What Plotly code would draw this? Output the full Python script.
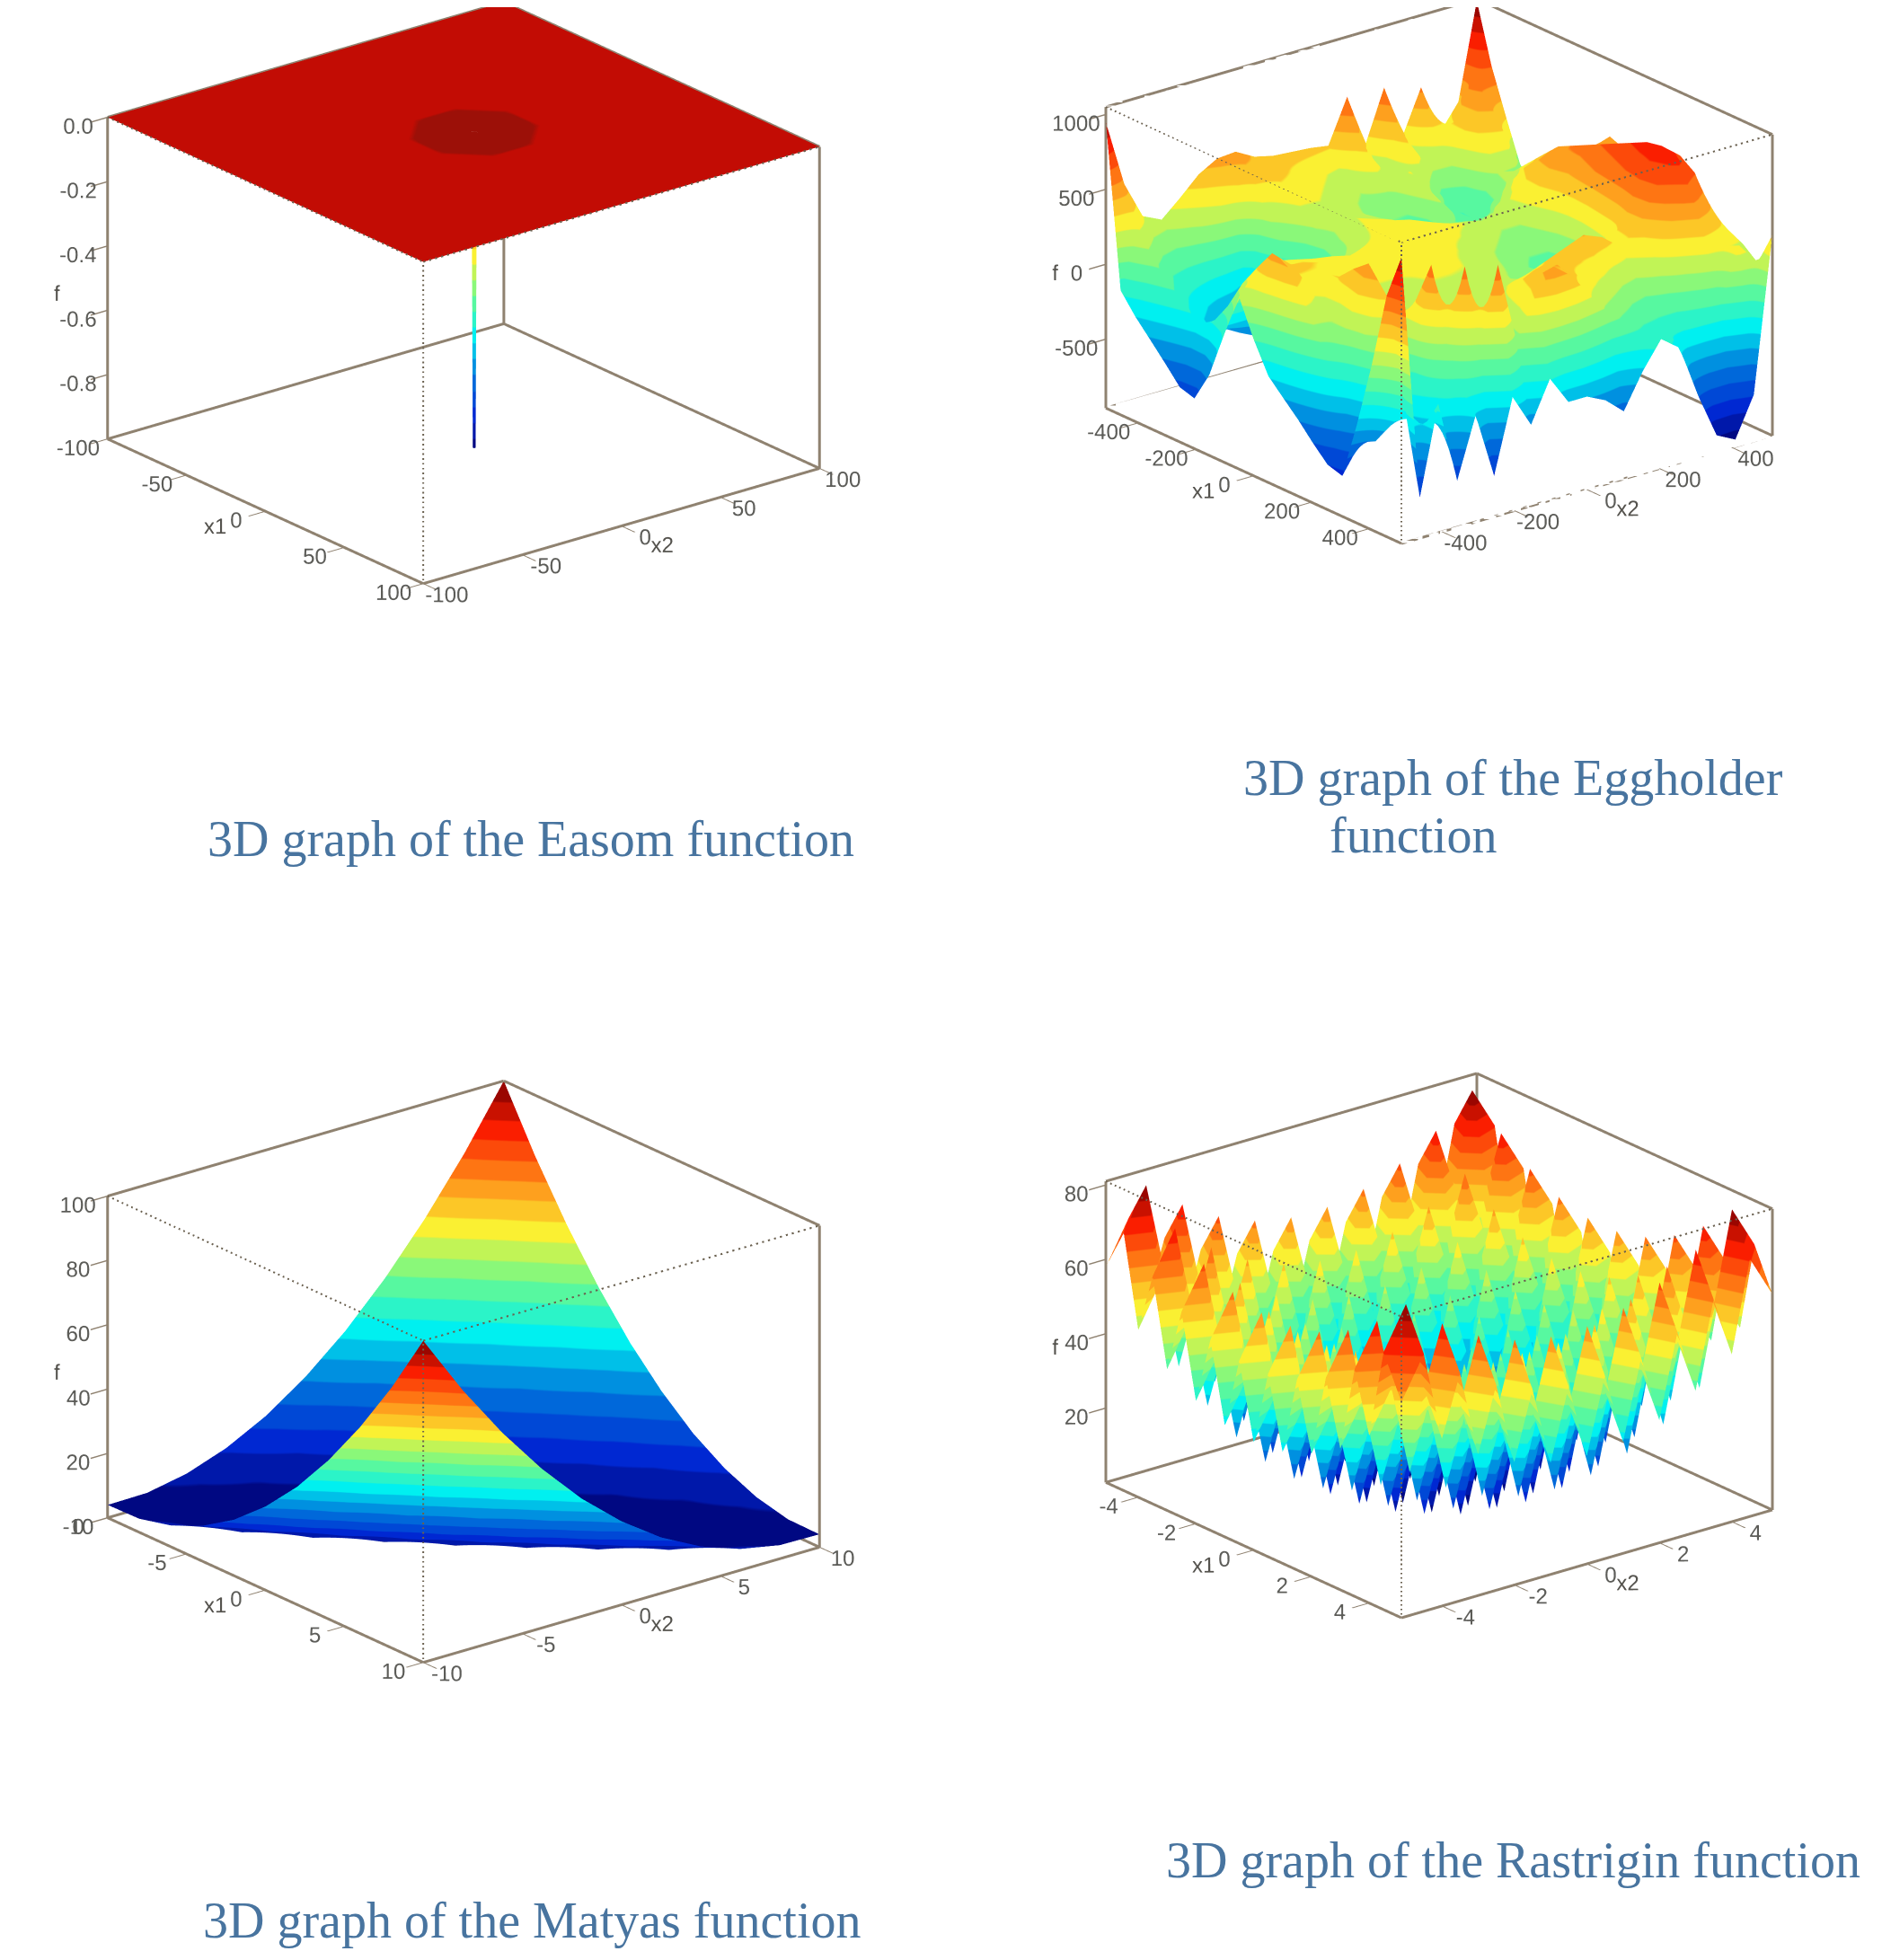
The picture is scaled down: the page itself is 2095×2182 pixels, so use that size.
import numpy as np
import plotly.graph_objects as go

W, H = 2095, 2182

# ---------- Easom ----------
EASOM_X = [-100, -60, -27, -22, -17, -12, -7, -2, 2, 2.6, 3.4, 4, 8, 13, 18, 23, 28, 33, 60, 100]
EASOM_SPIKE = -0.98
# depth of the darker disc round the spike: 0-7, in steps of EASOM_STEP
EASOM_STEP = -0.006
EASOM_MASK = [
    "00000000000000000000",
    "00000000000000000000",
    "00000011111111000000",
    "00000233333333200000",
    "00002345555554320000",
    "00023456666665432000",
    "00134567777776543100",
    "00135677777777653100",
    "00135677777777653100",
    "00135677777777653100",
    "00135677777777653100",
    "00135677777777653100",
    "00135677777777653100",
    "00134567777776543100",
    "00023456666665432000",
    "00002345555554320000",
    "00000233333333200000",
    "00000011111111000000",
    "00000000000000000000",
    "00000000000000000000",
]

# ---------- Eggholder (rows: x1, columns: x2) ----------
EGG_X = [-512, -461, -410, -358, -307, -256, -205, -154, -102, -51, 0, 51, 102, 154, 205, 256, 307, 358, 410, 461, 512]
EGG_Z = [
    [950, 500, 250, 190, 300, 420, 490, 500, 430, 400, 390, 380, 360, 650, 300, 640, 280, 570, 230, 400, 1040],
    [-130, 250, 100, 50, 100, 200, 300, 420, 400, 350, 300, 250, 200, 400, 150, 420, 200, 300, 350, 600, 650],
    [-260, 80, -50, -100, -150, -200, -300, 200, 330, 300, 250, 200, 150, 250, 180, 300, 150, 150, 400, 500, 350],
    [-370, -20, -150, -250, -350, -400, -400, 50, 250, 250, 200, 150, 100, 100, 250, 150, -20, 50, 300, 350, 60],
    [-480, -120, -250, -350, -420, -480, -480, -100, 150, 200, 180, 120, 50, 50, 200, 50, -60, 0, 150, 100, -20],
    [-595, -200, -300, -300, -300, -450, -500, -150, 100, 220, 200, 100, 50, -10, 150, 0, -50, 50, 200, 50, -130],
    [-625, -150, -100, -100, -100, -200, -350, -50, 150, 250, 220, 150, 80, 50, 50, -50, 50, 200, 300, 150, -150],
    [-425, 0, 100, 150, 100, 50, -50, 100, 200, 280, 250, 200, 150, 100, 80, 100, 200, 350, 400, 350, 150],
    [-108, 200, 250, 280, 250, 200, 150, 200, 250, 300, 300, 250, 200, 180, 150, 200, 300, 450, 500, 450, 400],
    [190, 350, 300, 330, 300, 280, 250, 280, 300, 320, 320, 280, 250, 200, 150, 150, 300, 500, 550, 500, 540],
    [-50, 490, 380, 350, 330, 320, 300, 300, 320, 300, 280, 250, 200, 150, 100, 100, 250, 450, 600, 550, 500],
    [-250, 450, 320, 330, 300, 300, 280, 280, 300, 280, 250, 200, 150, 100, 50, 50, 200, 500, 650, 600, 480],
    [-350, 300, 200, 350, 300, 250, 250, 260, 280, 260, 220, 180, 120, 60, 0, 0, 200, 550, 700, 650, 450],
    [-450, 100, 150, 450, 280, 200, 200, 250, 250, 240, 200, 150, 100, 80, -50, -20, 250, 600, 750, 700, 420],
    [-560, -100, 200, 530, 250, 150, 180, 220, 220, 220, 200, 120, 100, 150, 100, 50, 300, 650, 800, 720, 380],
    [-660, -350, 150, 400, 150, 100, 150, 200, 200, 200, 200, 200, 250, 300, 350, 250, 400, 700, 820, 720, 350],
    [-690, -500, 0, 150, 350, 100, 120, 150, 180, 250, 300, 350, 400, 450, 400, 300, 400, 650, 780, 650, 320],
    [-300, -450, -150, -50, 620, 50, 80, 100, 200, 350, 400, 380, 350, 300, 200, 150, 250, 450, 600, 450, 280],
    [150, -300, -250, -100, 150, 620, 50, 50, 250, 420, 450, 350, 250, 150, 50, 0, 50, 150, 300, 250, 230],
    [650, -150, -300, -200, -100, 100, 640, 100, 350, 520, 420, 250, 100, 0, -80, -100, -150, -100, -50, 300, 150],
    [950, -690, -100, -650, -250, -690, -200, -420, -150, -340, -340, -400, -510, -280, -100, -195, -550, -850, -915, -650, 380],
]

# ---------- Matyas (rows: x1, columns: x2) ----------
MAT_X = [-10, -8, -6, -4, -2, 0, 2, 4, 6, 8, 10]
MAT_Z = [
    [4.0, 4.2, 6.6, 11.0, 17.4, 26.0, 36.6, 49.4, 64.2, 81.0, 100.0],
    [4.2, 2.6, 3.0, 5.4, 10.0, 16.6, 25.4, 36.2, 49.0, 64.0, 81.0],
    [6.6, 3.0, 1.4, 2.0, 4.6, 9.4, 16.2, 25.0, 36.0, 49.0, 64.2],
    [11.0, 5.4, 2.0, 0.6, 1.4, 4.2, 9.0, 16.0, 25.0, 36.2, 49.4],
    [17.4, 10.0, 4.6, 1.4, 0.2, 1.0, 4.0, 9.0, 16.2, 25.4, 36.6],
    [26.0, 16.6, 9.4, 4.2, 1.0, 0.0, 1.0, 4.2, 9.4, 16.6, 26.0],
    [36.6, 25.4, 16.2, 9.0, 4.0, 1.0, 0.2, 1.4, 4.6, 10.0, 17.4],
    [49.4, 36.2, 25.0, 16.0, 9.0, 4.2, 1.4, 0.6, 2.0, 5.4, 11.0],
    [64.2, 49.0, 36.0, 25.0, 16.2, 9.4, 4.6, 2.0, 1.4, 3.0, 6.6],
    [81.0, 64.0, 49.0, 36.2, 25.4, 16.6, 10.0, 5.4, 3.0, 2.6, 4.2],
    [100.0, 81.0, 64.2, 49.4, 36.6, 26.0, 17.4, 11.0, 6.6, 4.2, 4.0],
]

# ---------- Rastrigin: one quadrant, the surface is mirrored about 0 ----------
RAS_X = [-5.12, -4.5, -4, -3.5, -3, -2.5, -2, -1.5, -1, -0.5, 0]
RAS_Q = [
    [58, 69.2, 45, 61.2, 38, 55.2, 33, 51.2, 30, 49.2, 29],
    [69.2, 80.4, 56.2, 72.4, 49.2, 66.4, 44.2, 62.4, 41.2, 60.4, 40.2],
    [45, 56.2, 32, 48.2, 25, 42.2, 20, 38.2, 17, 36.2, 16],
    [61.2, 72.4, 48.2, 64.4, 41.2, 58.4, 36.2, 54.4, 33.2, 52.4, 32.2],
    [38, 49.2, 25, 41.2, 18, 35.2, 13, 31.2, 10, 29.2, 9],
    [55.2, 66.4, 42.2, 58.4, 35.2, 52.4, 30.2, 48.4, 27.2, 46.4, 26.2],
    [33, 44.2, 20, 36.2, 13, 30.2, 8, 26.2, 5, 24.2, 4],
    [51.2, 62.4, 38.2, 54.4, 31.2, 48.4, 26.2, 44.4, 23.2, 42.4, 22.2],
    [30, 41.2, 17, 33.2, 10, 27.2, 5, 23.2, 2, 21.2, 1],
    [49.2, 60.4, 36.2, 52.4, 29.2, 46.4, 24.2, 42.4, 21.2, 40.4, 20.2],
    [29, 40.2, 16, 32.2, 9, 26.2, 4, 22.2, 1, 20.2, 0],
]

TITLES = ["3D graph of the Easom function", "3D graph of the Eggholder", "function",
          "3D graph of the Matyas function", "3D graph of the Rastrigin function"]
TICKS_EASOM = [-100, -50, 0, 50, 100]
TICKS_EGG = [-400, -200, 0, 200, 400]
TICKS_MAT = [-10, -5, 0, 5, 10]
TICKS_RAS = [-4, -2, 0, 2, 4]
ZTICKS_EASOM = [-0.8, -0.6, -0.4, -0.2, 0.0]
ZLABELS_EASOM = ["-0.8", "-0.6", "-0.4", "-0.2", "0.0"]
ZTICKS_EGG = [-500, 0, 500, 1000]
ZTICKS_MAT = [0, 20, 40, 60, 80, 100]
ZTICKS_RAS = [20, 40, 60, 80]

# ---------- colours ----------
JET = [(0, (0, 0, 110)), (.125, (0, 40, 210)), (.25, (0, 120, 220)), (.375, (0, 240, 240)),
       (.5, (110, 250, 140)), (.625, (250, 240, 50)), (.75, (255, 140, 25)), (.875, (250, 30, 0)),
       (1, (130, 0, 0))]

def jet(t):
    xs = [a for a, _ in JET]
    return "rgb(%d,%d,%d)" % tuple(np.interp(t, xs, [c[i] for _, c in JET]) for i in range(3))

def bands(n, top=1.0):
    out = []
    for k in range(n):
        c = jet((k + .5) / n)
        out += [[top * k / n, c], [top * (k + 1) / n, c]]
    return out

EASOM_SCALE = bands(20, .95) + [[.95, "#9c1008"], [.985, "#9c1008"], [.985, "#c20c04"], [1, "#c20c04"]]

EDGE = "#8f8270"
TICKFONT = dict(family="Liberation Sans", size=17, color="#5c5c58")
TITLEFONT = dict(family="Liberation Sans", size=24, color="#55534e")

AZ = np.array([0.623, 0.782, 0.0])
EL = np.arcsin(0.365)
Z_ASPECT = 0.682
# scene rectangles in page pixels: x0, x1, y0, y1
RECTS = {"scene": (0, 1047, 0, 800), "scene2": (1048, 2095, 0, 800),
         "scene3": (0, 1047, 1175, 1975), "scene4": (1048, 2095, 1175, 1975)}

def camera(cx, cy, rect):
    x0, x1, y0, y1 = rect
    unit = 0.5 * (y1 - y0)   # orthographic view: px per scene unit is half the scene height
    right = AZ
    nh = np.array([AZ[1], -AZ[0], 0.0])
    n = nh * np.cos(EL) + np.array([0, 0, np.sin(EL)])
    up = -nh * np.sin(EL) + np.array([0, 0, np.cos(EL)])
    ox = cx - (x0 + x1) / 2
    oy = (y0 + y1) / 2 - cy
    c = -(ox * right + oy * up) / unit
    e = c + n * 3
    return dict(center=dict(x=c[0], y=c[1], z=c[2]), eye=dict(x=e[0], y=e[1], z=e[2]),
                up=dict(x=0, y=0, z=1))

def box_traces(xr, zr, scene):
    a, b = xr
    lo, hi = zr
    L, Fr, R, Bk = (a, a), (b, a), (b, b), (a, b)
    solid = [(L, hi, Bk, hi), (Bk, hi, R, hi), (L, lo, L, hi), (R, lo, R, hi), (Bk, lo, Bk, hi),
             (L, lo, Fr, lo), (Fr, lo, R, lo), (R, lo, Bk, lo), (Bk, lo, L, lo)]
    dotted = [(L, hi, Fr, hi), (R, hi, Fr, hi), (Fr, lo, Fr, hi)]
    out = []
    for segs, dash, w, col in ((solid, "solid", 6, EDGE), (dotted, "dot", 4, "#6b6150")):
        xs, ys, zs = [], [], []
        for p, z0, q, z1 in segs:
            xs += [p[0], q[0], None]
            ys += [p[1], q[1], None]
            zs += [z0, z1, None]
        out.append(go.Scatter3d(x=xs, y=ys, z=zs, mode="lines", scene=scene, showlegend=False,
                                hoverinfo="skip", line=dict(color=col, width=w, dash=dash)))
    return out

def axis(title, rng, ticks, labels=None):
    labels = labels or [str(t) for t in ticks]
    return dict(title=dict(text=title, font=TITLEFONT), range=rng, tickvals=ticks, ticktext=labels,
                tickangle=0, tickfont=TICKFONT, ticks="outside", ticklen=24, tickwidth=3,
                tickcolor=EDGE, showgrid=False, zeroline=False, showbackground=False,
                showline=False, showspikes=False, autorange=False)

LIGHT = dict(ambient=1, diffuse=0, specular=0, roughness=1, fresnel=0)

fig = go.Figure()

def panel(name, xs, z, zr, ticks, zticks, colorscale, center, edge_px, surfacecolor=None, zlabels=None):
    xr = [xs[0], xs[-1]]
    rect = RECTS[name]
    cam = camera(center[0], center[1], rect)
    a = edge_px / (0.5 * (rect[3] - rect[2]))
    fig.add_trace(go.Surface(x=xs, y=xs, z=z, scene=name, colorscale=colorscale, showscale=False,
                             surfacecolor=surfacecolor, cmin=zr[0], cmax=zr[1],
                             lighting=LIGHT, hoverinfo="skip"))
    for t in box_traces(xr, zr, name):
        fig.add_trace(t)
    fig.update_layout({name: dict(
        domain=dict(x=[rect[0] / W, rect[1] / W], y=[1 - rect[3] / H, 1 - rect[2] / H]),
        aspectmode="manual", aspectratio=dict(x=a, y=a, z=Z_ASPECT * a),
        bgcolor="rgba(0,0,0,0)",
        camera=dict(**cam, projection=dict(type="orthographic")),
        xaxis=axis("x1", xr, ticks), yaxis=axis("x2", xr, ticks),
        zaxis=axis("f", zr, zticks, zlabels))})

e_z = np.zeros((20, 20))
e_z[9:11, 9:11] = EASOM_SPIKE
e_c = np.array([[int(ch) * EASOM_STEP for ch in row] for row in EASOM_MASK])
e_c[9:11, 9:11] = EASOM_SPIKE
panel("scene", EASOM_X, e_z.tolist(), [-1, 0], TICKS_EASOM, ZTICKS_EASOM, EASOM_SCALE,
      (508, 318), 564, surfacecolor=e_c.tolist(), zlabels=ZLABELS_EASOM)

panel("scene2", EGG_X, np.array(EGG_Z).T.tolist(), [-960, 1050], TICKS_EGG, ZTICKS_EGG, bands(20),
      (1594, 294), 528)

panel("scene3", MAT_X, np.array(MAT_Z).T.tolist(), [0, 100], TICKS_MAT, ZTICKS_MAT, bands(20),
      (508, 1519), 564)

q = np.array(RAS_Q)
top = np.hstack([q, q[:, -2::-1]])
ras = np.vstack([top, top[-2::-1]])
ras_x = RAS_X + [-v for v in RAS_X[-2::-1]]
panel("scene4", ras_x, ras.tolist(), [0, 81], TICKS_RAS, ZTICKS_RAS, bands(20),
      (1594, 1490), 528)

TF = dict(family="Liberation Serif", size=56, color="#48749f")
POS = [(583, 926), (1676, 858), (1565, 922), (584, 2130), (1676, 2063)]
for txt, (px, py) in zip(TITLES, POS):
    fig.add_annotation(text=txt, x=px / W, y=1 - py / H, xref="paper", yref="paper",
                       showarrow=False, font=TF, xanchor="center", yanchor="middle")

fig.update_layout(width=W, height=H, margin=dict(l=0, r=0, t=0, b=0),
                  paper_bgcolor="white", showlegend=False)
fig.write_html("out.html")
